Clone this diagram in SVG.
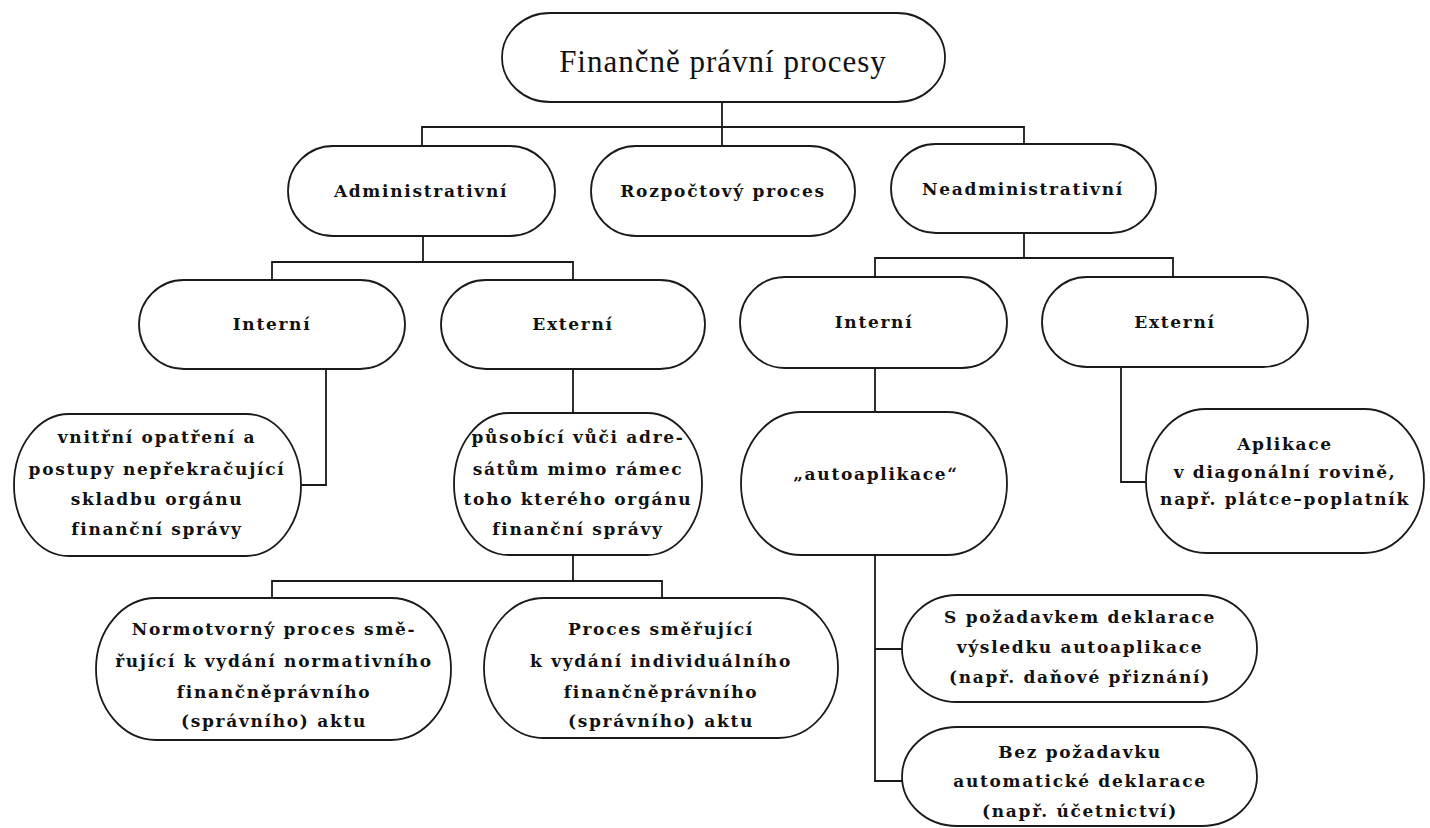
<svg xmlns="http://www.w3.org/2000/svg" width="1430" height="828" viewBox="0 0 1430 828">
<style>
.b{fill:#fff;stroke:#1a1a1a;stroke-width:1.8}
.c{fill:none;stroke:#1a1a1a;stroke-width:1.8}
text{font-family:"DejaVu Serif","Liberation Serif",serif;font-size:17px;font-weight:bold;letter-spacing:1.7px;fill:#111;text-anchor:middle}
.t{font-family:"Liberation Serif","DejaVu Serif",serif;font-size:31px;font-weight:normal;letter-spacing:1px}
</style>
<rect width="1430" height="828" fill="#fff"/>
<g id="connectors">
<path class="c" d="M722 102V146M422 146V127H1024V146"/>
<path class="c" d="M423 236V262M272 280V262H573V280"/>
<path class="c" d="M1024 233V258M875 277V258H1173V277"/>
<path class="c" d="M326 369V485H301"/>
<path class="c" d="M573 369V413M573 555V581M272 598V581H662V598"/>
<path class="c" d="M875 368V412M875 555V781H902M875 649H902"/>
<path class="c" d="M1121 367V482H1146"/>
</g>
<g id="root"><rect class="b" x="502" y="13" width="443" height="89" rx="48" ry="44.5"/><text class="t" x="723" y="72">Finančně právní procesy</text></g>
<g id="admin"><rect class="b" x="288" y="146" width="267" height="90" rx="45" ry="45"/><text x="421" y="197">Administrativní</text></g>
<g id="rozpoctovy"><rect class="b" x="591" y="146" width="264" height="90" rx="45" ry="45"/><text x="723" y="197">Rozpočtový proces</text></g>
<g id="neadmin"><rect class="b" x="891" y="144" width="265" height="89" rx="45" ry="44.5"/><text x="1023" y="195">Neadministrativní</text></g>
<g id="interni-a"><rect class="b" x="139" y="280" width="266" height="89" rx="45" ry="44.5"/><text x="272" y="330">Interní</text></g>
<g id="externi-a"><rect class="b" x="441" y="280" width="264" height="89" rx="45" ry="44.5"/><text x="573" y="330">Externí</text></g>
<g id="interni-n"><rect class="b" x="740" y="277" width="267" height="91" rx="45" ry="45.5"/><text x="874" y="328">Interní</text></g>
<g id="externi-n"><rect class="b" x="1042" y="277" width="266" height="90" rx="45" ry="45"/><text x="1175" y="328">Externí</text></g>
<g id="vnitrni"><rect class="b" x="14" y="414" width="287" height="142" rx="55" ry="71"/>
<text x="157" y="443">vnitřní opatření a</text><text x="157" y="475">postupy nepřekračující</text><text x="157" y="505">skladbu orgánu</text><text x="157" y="535">finanční správy</text></g>
<g id="pusobici"><rect class="b" x="454" y="413" width="248" height="142" rx="55" ry="71"/>
<text x="578" y="443">působící vůči adre-</text><text x="578" y="475">sátům mimo rámec</text><text x="578" y="505">toho kterého orgánu</text><text x="578" y="535">finanční správy</text></g>
<g id="autoaplikace"><rect class="b" x="741" y="412" width="266" height="143" rx="60" ry="71.5"/><text x="876" y="480">„autoaplikace“</text></g>
<g id="aplikace"><rect class="b" x="1146" y="409" width="278" height="144" rx="60" ry="72"/>
<text x="1285" y="450">Aplikace</text><text x="1285" y="478">v diagonální rovině,</text><text x="1285" y="505">např. plátce–poplatník</text></g>
<g id="normotvorny"><rect class="b" x="96" y="598" width="355" height="142" rx="60" ry="71"/>
<text x="274" y="635">Normotvorný proces smě-</text><text x="274" y="667">řující k vydání normativního</text><text x="274" y="698">finančněprávního</text><text x="274" y="727">(správního) aktu</text></g>
<g id="proces"><rect class="b" x="484" y="598" width="354" height="140" rx="60" ry="70"/>
<text x="661" y="635">Proces směřující</text><text x="661" y="667">k vydání individuálního</text><text x="661" y="698">finančněprávního</text><text x="661" y="727">(správního) aktu</text></g>
<g id="s-pozadavkem"><rect class="b" x="902" y="595" width="355" height="107" rx="55" ry="53.5"/>
<text x="1080" y="623">S požadavkem deklarace</text><text x="1080" y="653">výsledku autoaplikace</text><text x="1080" y="683">(např. daňové přiznání)</text></g>
<g id="bez-pozadavku"><rect class="b" x="902" y="727" width="355" height="99" rx="55" ry="49.5"/>
<text x="1080" y="758">Bez požadavku</text><text x="1080" y="787">automatické deklarace</text><text x="1080" y="817">(např. účetnictví)</text></g>
</svg>
